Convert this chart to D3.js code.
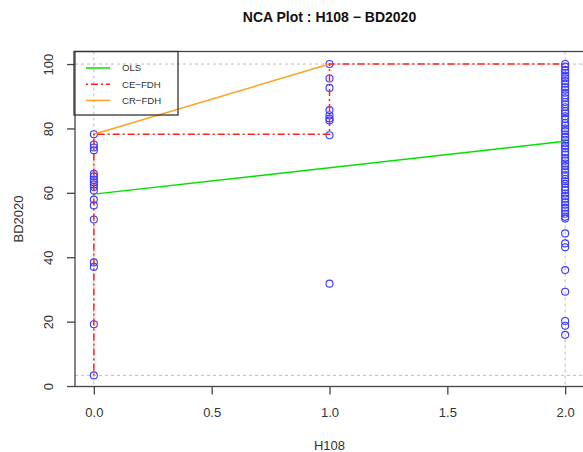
<!DOCTYPE html>
<html>
<head>
<meta charset="utf-8">
<script src="https://cdn.jsdelivr.net/npm/d3@7"></script>
<style>
body { margin: 0; background: #fff; }
text { font-family: "Liberation Sans", Arial, sans-serif; }
</style>
</head>
<body>
<div id="box"></div>
<script>
// data
var xs0 = [78.2, 75.0, 74.1, 73.2, 65.9, 65.1, 64.1, 63.3, 62.6, 61.8, 60.7, 57.9, 56.1, 51.7, 38.4, 37.0, 19.2, 3.3];
var xs1 = [100, 95.5, 92.6, 85.7, 84.1, 83.1, 82.5, 77.9, 31.8];
var xs2 = [100, 99.2, 98.1, 97.3, 96.4, 95.6, 94.7, 93.9, 92.8, 92.0, 91.1, 90.3, 89.4, 88.2, 87.5, 86.6, 85.4, 84.7,
           83.8, 82.9, 81.7, 80.9, 80.0, 79.2, 78.1, 77.3, 76.5, 75.4, 74.6, 73.8, 72.7, 71.9, 70.8, 70.0, 69.1, 68.3,
           67.2, 66.4, 65.5, 64.3, 63.6, 62.8, 61.7, 60.9, 59.8, 59.0, 58.2, 57.1, 56.3, 55.4, 54.5, 53.5, 52.6, 52.0,
           47.4, 44.3, 43.1, 36.0, 29.3, 20.2, 18.7, 15.9];
var xTicks = [0, 0.5, 1, 1.5, 2];
var yTicks = [0, 20, 40, 60, 80, 100];
var olsLine = [[0, 59.6], [2, 76.0]];
var crLine = [[0, 78.2], [1, 100]];
var ceLine = [[0, 3.3], [0, 78.2], [1, 78.2], [1, 100], [2, 100]];
var scopeX = [0, 2];
var scopeY = [3.3, 100];
var legendNames = ["OLS", "CE\u2212FDH", "CR\u2212FDH"];

var w = 583, h = 452;
var pL = 75, pR = 584, pT = 51.5, pB = 386.5;

var points = [];
xs0.forEach(function(v) { points.push([0, v]); });
xs1.forEach(function(v) { points.push([1, v]); });
xs2.forEach(function(v) { points.push([2, v]); });

var x = d3.scaleLinear().domain([-0.08, 2.08]).range([pL, pR]);
var y = d3.scaleLinear().domain([-0.15, 103.9]).range([pB, pT]);

var svg = d3.select("#box")
            .append("svg")
            .attr("width", w)
            .attr("height", h);

// scope lines
svg.selectAll("line.sx")
   .data(scopeX)
   .enter()
   .append("line")
   .attr("x1", function(d) { return x(d); })
   .attr("x2", function(d) { return x(d); })
   .attr("y1", pT)
   .attr("y2", pB)
   .attr("stroke", "#bdbdbd")
   .attr("stroke-dasharray", "3,3");

svg.selectAll("line.sy")
   .data(scopeY)
   .enter()
   .append("line")
   .attr("x1", pL)
   .attr("x2", pR)
   .attr("y1", function(d) { return y(d); })
   .attr("y2", function(d) { return y(d); })
   .attr("stroke", "#bdbdbd")
   .attr("stroke-dasharray", "3,3");

// points
svg.selectAll("circle")
   .data(points)
   .enter()
   .append("circle")
   .attr("cx", function(d) { return x(d[0]); })
   .attr("cy", function(d) { return y(d[1]); })
   .attr("r", 3.5)
   .attr("fill", "none")
   .attr("stroke", "#3b3bff")
   .attr("stroke-width", 1.1);

var line = d3.line()
             .x(function(d) { return x(d[0]); })
             .y(function(d) { return y(d[1]); });

svg.append("path").attr("d", line(olsLine))
   .attr("fill", "none").attr("stroke", "#00e000").attr("stroke-width", 1.5);
svg.append("path").attr("d", line(crLine))
   .attr("fill", "none").attr("stroke", "#ffa020").attr("stroke-width", 1.5);
svg.append("path").attr("d", line(ceLine))
   .attr("fill", "none").attr("stroke", "#ff2020").attr("stroke-width", 1.5)
   .attr("stroke-dasharray", "2,3,7,3");

// box
svg.append("rect")
   .attr("x", pL).attr("y", pT)
   .attr("width", pR - pL).attr("height", pB - pT)
   .attr("fill", "none").attr("stroke", "#444").attr("stroke-width", 1.3);

// axes
var xAxis = svg.append("g")
   .attr("transform", "translate(0," + pB + ")")
   .call(d3.axisBottom(x).tickValues(xTicks).tickFormat(d3.format(".1f")).tickSize(8).tickPadding(13));
xAxis.select(".domain").remove();
xAxis.selectAll("text").attr("font-size", 13).attr("font-family", "Liberation Sans, Arial, sans-serif").attr("fill", "#333");
xAxis.selectAll("line").attr("stroke", "#444").attr("stroke-width", 1.3);

var yAxis = svg.append("g")
   .attr("transform", "translate(" + pL + ",0)")
   .call(d3.axisLeft(y).tickValues(yTicks).tickSize(8));
yAxis.select(".domain").remove();
yAxis.selectAll("line").attr("stroke", "#444").attr("stroke-width", 1.3);
yAxis.selectAll("text")
     .attr("font-size", 13)
     .attr("font-family", "Liberation Sans, Arial, sans-serif")
     .attr("fill", "#333")
     .attr("x", 0)
     .attr("y", 0)
     .attr("dy", "0.35em")
     .attr("text-anchor", "middle")
     .attr("transform", "translate(-26.5,0) rotate(-90)");

// titles
svg.append("text")
   .attr("x", (pL + pR) / 2).attr("y", 22)
   .attr("text-anchor", "middle")
   .attr("font-size", 14).attr("font-weight", "bold")
   .attr("fill", "#111")
   .text("NCA Plot : H108 \u2212 BD2020");

svg.append("text")
   .attr("x", (pL + pR) / 2).attr("y", 450)
   .attr("text-anchor", "middle")
   .attr("font-size", 13)
   .attr("fill", "#333")
   .text("H108");

svg.append("text")
   .attr("transform", "translate(22.5," + ((pT + pB) / 2) + ") rotate(-90)")
   .attr("text-anchor", "middle")
   .attr("font-size", 13)
   .attr("fill", "#333")
   .text("BD2020");

// legend
var lg = svg.append("g");
lg.append("rect")
  .attr("x", pL - 1).attr("y", pT)
  .attr("width", 104).attr("height", 63.5)
  .attr("fill", "none").attr("stroke", "#333").attr("stroke-width", 1.3);

var legendColors = ["#00e000", "#ff2020", "#ffa020"];
var legendDash = [null, "2,3,7,3", null];
var rows = lg.selectAll("g.row")
  .data(legendNames)
  .enter()
  .append("g")
  .attr("transform", function(d, i) { return "translate(0," + (68 + i * 16.2) + ")"; });

rows.append("line")
  .attr("x1", 86).attr("x2", 110)
  .attr("y1", 0).attr("y2", 0)
  .attr("stroke", function(d, i) { return legendColors[i]; })
  .attr("stroke-width", 1.5)
  .attr("stroke-dasharray", function(d, i) { return legendDash[i]; });

rows.append("text")
  .attr("x", 122).attr("y", 0).attr("dy", "0.35em")
  .attr("font-size", 9.6)
  .attr("fill", "#333")
  .text(function(d) { return d; });
</script>
</body>
</html>
